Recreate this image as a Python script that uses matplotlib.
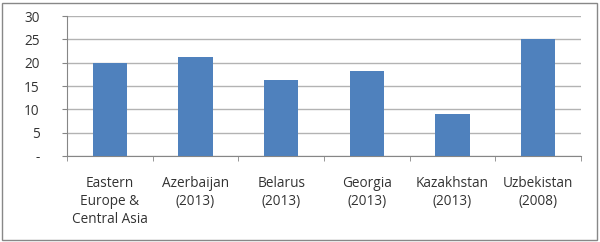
import matplotlib
matplotlib.use("Agg")
import matplotlib.pyplot as plt
from matplotlib.patches import Rectangle
from matplotlib.ticker import FixedLocator

categories = ["Eastern\nEurope &\nCentral Asia", "Azerbaijan\n(2013)", "Belarus\n(2013)",
              "Georgia\n(2013)", "Kazakhstan\n(2013)", "Uzbekistan\n(2008)"]
values = [20.0, 21.2, 16.3, 18.3, 9.1, 25.1]
yticks = [0, 5, 10, 15, 20, 25, 30]
ytick_labels = ["-", "5", "10", "15", "20", "25", "30"]

plt.rcParams['font.family'] = ['Open Sans', 'DejaVu Sans']

fig = plt.figure(figsize=(6.0, 2.42), dpi=100)
ax = fig.add_axes([67/600, 1-156/242, (581-67)/600, 140/242])

x = list(range(len(categories)))
ax.bar(x, values, width=0.4, color="#4F81BD", zorder=3)
ax.set_xlim(-0.5, len(categories) - 0.5)
ax.set_ylim(0, 30)
ax.set_yticks(yticks)
ax.set_yticklabels(ytick_labels, fontsize=9.8, color="#333333")
ax.set_xticks(x)
ax.set_xticklabels(categories, fontsize=9.8, color="#333333", linespacing=1.26)
ax.tick_params(axis='x', which='major', length=0, pad=14.5)
ax.xaxis.set_minor_locator(FixedLocator([i - 0.5 for i in range(len(categories) + 1)]))
ax.tick_params(axis='x', which='minor', length=3.6, color="#868686", direction='out')
ax.tick_params(axis='y', length=3.6, color="#868686", pad=16)
ax.yaxis.grid(True, color="#B3B3B3", linewidth=1, zorder=0)
for s in ['top', 'right']:
    ax.spines[s].set_visible(False)
for s in ['left', 'bottom']:
    ax.spines[s].set_color("#868686")

fig.patches.append(Rectangle((2/600, 2/242), 595/600, 237/242, transform=fig.transFigure,
                             fill=False, edgecolor="#888888", linewidth=1))
fig.savefig("out.png", dpi=100)
